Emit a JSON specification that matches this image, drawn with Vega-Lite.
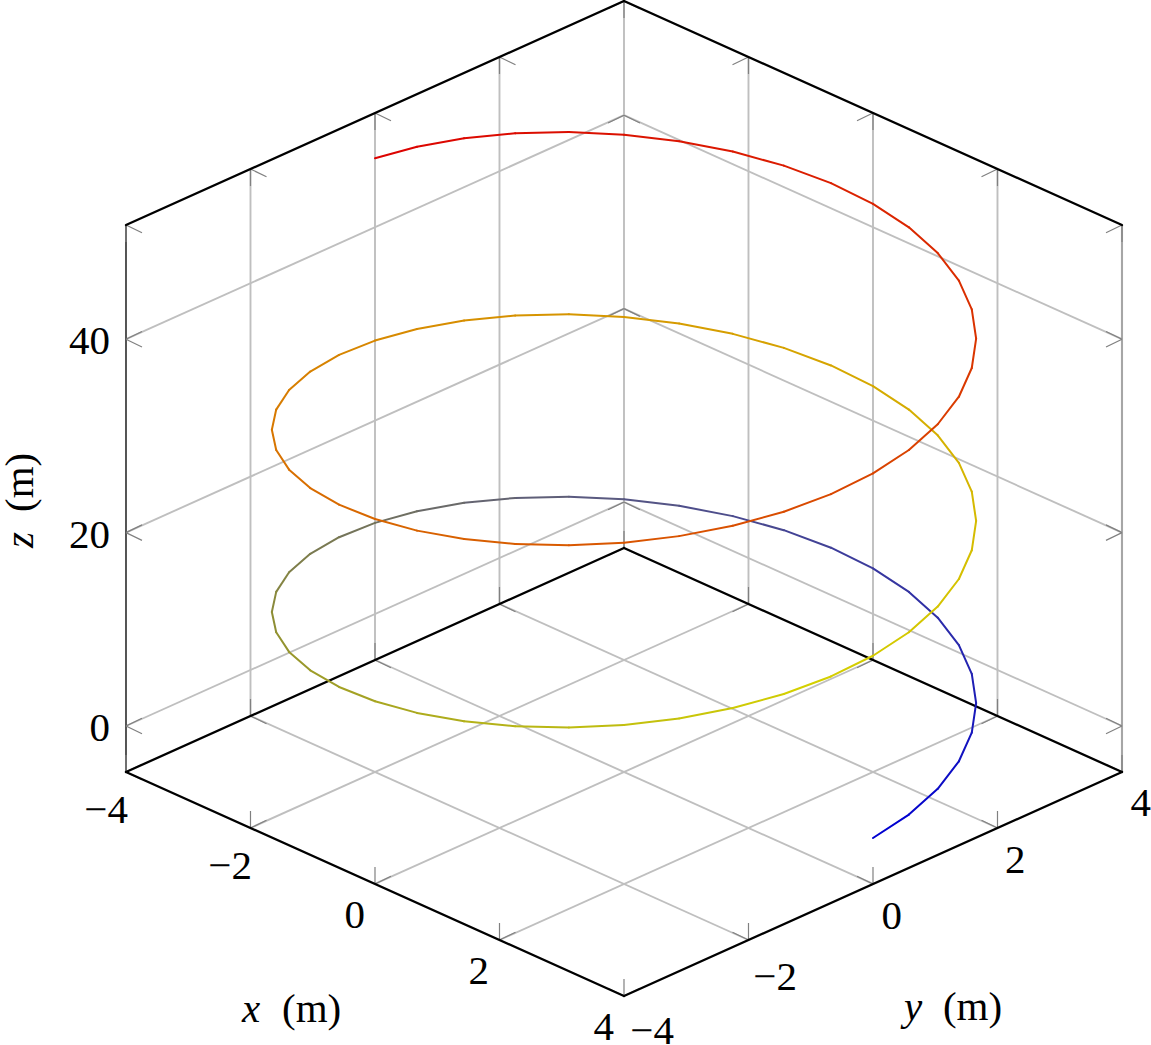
{
"$schema":"https://vega.github.io/schema/vega-lite/v6.json",
"width":1151,"height":1045,"padding":0,"autosize":{"type":"none"},"background":"white",
"config":{"view":{"stroke":null}},
"datasets":{
"grid":[
{"u":-6,"h":-10.548,"u2":2,"h2":12.617},{"u":2,"h":12.617,"u2":2,"h2":69.184},
{"u":-4,"h":-16.339,"u2":4,"h2":6.825},{"u":4,"h":6.825,"u2":4,"h2":63.392},
{"u":-2,"h":-22.131,"u2":6,"h2":1.034},{"u":6,"h":1.034,"u2":6,"h2":57.601},
{"u":-6,"h":1.034,"u2":2,"h2":-22.131},{"u":-6,"h":1.034,"u2":-6,"h2":57.601},
{"u":-4,"h":6.825,"u2":4,"h2":-16.339},{"u":-4,"h":6.825,"u2":-4,"h2":63.392},
{"u":-2,"h":12.617,"u2":6,"h2":-10.548},{"u":-2,"h":12.617,"u2":-2,"h2":69.184},
{"u":0,"h":18.408,"u2":0,"h2":74.975},
{"u":-8,"h":0,"u2":0,"h2":23.165},{"u":0,"h":23.165,"u2":8,"h2":0},
{"u":-8,"h":20,"u2":0,"h2":43.165},{"u":0,"h":43.165,"u2":8,"h2":20},
{"u":-8,"h":40,"u2":0,"h2":63.165},{"u":0,"h":63.165,"u2":8,"h2":40}
],
"ticks":[
{"u":-8,"h":-4.757,"u2":-8,"h2":-2.997},{"u":-6,"h":-10.548,"u2":-6,"h2":-8.788},{"u":-4,"h":-16.339,"u2":-4,"h2":-14.579},{"u":-2,"h":-22.131,"u2":-2,"h2":-20.371},{"u":0,"h":-27.922,"u2":0,"h2":-26.162},
{"u":-8,"h":-4.757,"u2":-7.743,"h2":-3.957},{"u":-6,"h":-10.548,"u2":-5.743,"h2":-9.748},{"u":-4,"h":-16.339,"u2":-3.743,"h2":-15.539},{"u":-2,"h":-22.131,"u2":-1.743,"h2":-21.331},{"u":0,"h":-27.922,"u2":0.257,"h2":-27.122},
{"u":2,"h":-22.131,"u2":2,"h2":-20.371},{"u":4,"h":-16.339,"u2":4,"h2":-14.579},{"u":6,"h":-10.548,"u2":6,"h2":-8.788},{"u":8,"h":-4.757,"u2":8,"h2":-2.997},
{"u":0,"h":-27.922,"u2":-0.257,"h2":-27.122},{"u":2,"h":-22.131,"u2":1.743,"h2":-21.331},{"u":4,"h":-16.339,"u2":3.743,"h2":-15.539},{"u":6,"h":-10.548,"u2":5.743,"h2":-9.748},{"u":8,"h":-4.757,"u2":7.743,"h2":-3.957},
{"u":-6,"h":1.034,"u2":-6,"h2":2.794},{"u":-4,"h":6.825,"u2":-4,"h2":8.585},{"u":-2,"h":12.617,"u2":-2,"h2":14.377},{"u":0,"h":18.408,"u2":0,"h2":20.168},
{"u":-8,"h":-4.757,"u2":-7.743,"h2":-5.557},{"u":-6,"h":1.034,"u2":-5.743,"h2":0.234},{"u":-4,"h":6.825,"u2":-3.743,"h2":6.025},{"u":-2,"h":12.617,"u2":-1.743,"h2":11.817},{"u":0,"h":18.408,"u2":0.257,"h2":17.608},
{"u":2,"h":12.617,"u2":2,"h2":14.377},{"u":4,"h":6.825,"u2":4,"h2":8.585},{"u":6,"h":1.034,"u2":6,"h2":2.794},
{"u":0,"h":18.408,"u2":-0.257,"h2":17.608},{"u":2,"h":12.617,"u2":1.743,"h2":11.817},{"u":4,"h":6.825,"u2":3.743,"h2":6.025},{"u":6,"h":1.034,"u2":5.743,"h2":0.234},{"u":8,"h":-4.757,"u2":7.743,"h2":-5.557},
{"u":-8,"h":51.81,"u2":-8,"h2":50.05},{"u":-6,"h":57.601,"u2":-6,"h2":55.841},{"u":-4,"h":63.392,"u2":-4,"h2":61.632},{"u":-2,"h":69.184,"u2":-2,"h2":67.424},{"u":0,"h":74.975,"u2":0,"h2":73.215},
{"u":-8,"h":51.81,"u2":-7.743,"h2":51.01},{"u":-6,"h":57.601,"u2":-5.743,"h2":56.801},{"u":-4,"h":63.392,"u2":-3.743,"h2":62.592},{"u":-2,"h":69.184,"u2":-1.743,"h2":68.384},{"u":0,"h":74.975,"u2":0.257,"h2":74.175},
{"u":2,"h":69.184,"u2":2,"h2":67.424},{"u":4,"h":63.392,"u2":4,"h2":61.632},{"u":6,"h":57.601,"u2":6,"h2":55.841},{"u":8,"h":51.81,"u2":8,"h2":50.05},
{"u":0,"h":74.975,"u2":-0.257,"h2":74.175},{"u":2,"h":69.184,"u2":1.743,"h2":68.384},{"u":4,"h":63.392,"u2":3.743,"h2":62.592},{"u":6,"h":57.601,"u2":5.743,"h2":56.801},{"u":8,"h":51.81,"u2":7.743,"h2":51.01},
{"u":-8,"h":0,"u2":-7.743,"h2":-0.8},{"u":-8,"h":0,"u2":-7.743,"h2":0.8},{"u":-8,"h":20,"u2":-7.743,"h2":19.2},{"u":-8,"h":20,"u2":-7.743,"h2":20.8},{"u":-8,"h":40,"u2":-7.743,"h2":39.2},{"u":-8,"h":40,"u2":-7.743,"h2":40.8},
{"u":8,"h":0,"u2":7.743,"h2":-0.8},{"u":8,"h":0,"u2":7.743,"h2":0.8},{"u":8,"h":20,"u2":7.743,"h2":19.2},{"u":8,"h":20,"u2":7.743,"h2":20.8},{"u":8,"h":40,"u2":7.743,"h2":39.2},{"u":8,"h":40,"u2":7.743,"h2":40.8},
{"u":0,"h":23.165,"u2":-0.257,"h2":22.365},{"u":0,"h":23.165,"u2":0.257,"h2":22.365},{"u":0,"h":43.165,"u2":-0.257,"h2":42.365},{"u":0,"h":43.165,"u2":0.257,"h2":42.365},{"u":0,"h":63.165,"u2":-0.257,"h2":62.365},{"u":0,"h":63.165,"u2":0.257,"h2":62.365}
],
"frame":[
{"u":-8,"h":-4.757,"u2":0,"h2":-27.922},{"u":0,"h":-27.922,"u2":8,"h2":-4.757},{"u":8,"h":-4.757,"u2":0,"h2":18.408},{"u":0,"h":18.408,"u2":-8,"h2":-4.757},
{"u":-8,"h":51.81,"u2":0,"h2":74.975},{"u":0,"h":74.975,"u2":8,"h2":51.81}
],
"helix":[
{"t":0,"u":4.0,"h":-11.583},{"t":1,"u":4.577,"h":-9.158},{"t":2,"u":5.04,"h":-6.495},{"t":3,"u":5.38,"h":-3.648},{"t":4,"u":5.587,"h":-0.678},{"t":5,"u":5.657,"h":2.356},{"t":6,"u":5.587,"h":5.39},{"t":7,"u":5.38,"h":8.361},{"t":8,"u":5.04,"h":11.207},{"t":9,"u":4.577,"h":13.87},
{"t":10,"u":4.0,"h":16.295},{"t":11,"u":3.325,"h":18.437},{"t":12,"u":2.568,"h":20.251},{"t":13,"u":1.748,"h":21.705},{"t":14,"u":0.885,"h":22.776},{"t":15,"u":0,"h":23.45},{"t":16,"u":-0.885,"h":23.719},{"t":17,"u":-1.748,"h":23.59},{"t":18,"u":-2.568,"h":23.078},{"t":19,"u":-3.325,"h":22.207},
{"t":20,"u":-4.0,"h":21.008},{"t":21,"u":-4.577,"h":19.525},{"t":22,"u":-5.04,"h":17.804},{"t":23,"u":-5.38,"h":15.901},{"t":24,"u":-5.587,"h":13.873},{"t":25,"u":-5.657,"h":11.781},{"t":26,"u":-5.587,"h":9.689},{"t":27,"u":-5.38,"h":7.661},{"t":28,"u":-5.04,"h":5.758},{"t":29,"u":-4.577,"h":4.037},
{"t":30,"u":-4.0,"h":2.554},{"t":31,"u":-3.325,"h":1.355},{"t":32,"u":-2.568,"h":0.484},{"t":33,"u":-1.748,"h":-0.028},{"t":34,"u":-0.885,"h":-0.157},{"t":35,"u":0,"h":0.112},{"t":36,"u":0.885,"h":0.786},{"t":37,"u":1.748,"h":1.857},{"t":38,"u":2.568,"h":3.311},{"t":39,"u":3.325,"h":5.125},
{"t":40,"u":4.0,"h":7.267},{"t":41,"u":4.577,"h":9.692},{"t":42,"u":5.04,"h":12.355},{"t":43,"u":5.38,"h":15.202},{"t":44,"u":5.587,"h":18.172},{"t":45,"u":5.657,"h":21.206},{"t":46,"u":5.587,"h":24.24},{"t":47,"u":5.38,"h":27.211},{"t":48,"u":5.04,"h":30.057},{"t":49,"u":4.577,"h":32.72},
{"t":50,"u":4.0,"h":35.145},{"t":51,"u":3.325,"h":37.287},{"t":52,"u":2.568,"h":39.101},{"t":53,"u":1.748,"h":40.555},{"t":54,"u":0.885,"h":41.626},{"t":55,"u":0,"h":42.3},{"t":56,"u":-0.885,"h":42.569},{"t":57,"u":-1.748,"h":42.44},{"t":58,"u":-2.568,"h":41.928},{"t":59,"u":-3.325,"h":41.057},
{"t":60,"u":-4.0,"h":39.858},{"t":61,"u":-4.577,"h":38.375},{"t":62,"u":-5.04,"h":36.654},{"t":63,"u":-5.38,"h":34.751},{"t":64,"u":-5.587,"h":32.723},{"t":65,"u":-5.657,"h":30.631},{"t":66,"u":-5.587,"h":28.539},{"t":67,"u":-5.38,"h":26.511},{"t":68,"u":-5.04,"h":24.608},{"t":69,"u":-4.577,"h":22.887},
{"t":70,"u":-4.0,"h":21.404},{"t":71,"u":-3.325,"h":20.205},{"t":72,"u":-2.568,"h":19.334},{"t":73,"u":-1.748,"h":18.822},{"t":74,"u":-0.885,"h":18.693},{"t":75,"u":0,"h":18.962},{"t":76,"u":0.885,"h":19.636},{"t":77,"u":1.748,"h":20.707},{"t":78,"u":2.568,"h":22.161},{"t":79,"u":3.325,"h":23.975},
{"t":80,"u":4.0,"h":26.117},{"t":81,"u":4.577,"h":28.542},{"t":82,"u":5.04,"h":31.205},{"t":83,"u":5.38,"h":34.052},{"t":84,"u":5.587,"h":37.022},{"t":85,"u":5.657,"h":40.056},{"t":86,"u":5.587,"h":43.09},{"t":87,"u":5.38,"h":46.061},{"t":88,"u":5.04,"h":48.907},{"t":89,"u":4.577,"h":51.57},
{"t":90,"u":4.0,"h":53.995},{"t":91,"u":3.325,"h":56.137},{"t":92,"u":2.568,"h":57.951},{"t":93,"u":1.748,"h":59.405},{"t":94,"u":0.885,"h":60.476},{"t":95,"u":0,"h":61.15},{"t":96,"u":-0.885,"h":61.419},{"t":97,"u":-1.748,"h":61.29},{"t":98,"u":-2.568,"h":60.778},{"t":99,"u":-3.325,"h":59.907},{"t":100,"u":-4.0,"h":58.708}
],
"tickLabels":[
{"u":-8.257,"h":38.47,"label":"40"},{"u":-8.257,"h":18.41,"label":"20"},{"u":-8.257,"h":-1.55,"label":"0"},
{"u":-7.968,"h":-10.03,"label":"−4"},{"u":-5.976,"h":-15.82,"label":"−2"},{"u":-4.161,"h":-20.89,"label":"0"},{"u":-2.169,"h":-26.68,"label":"2"},{"u":-0.161,"h":-32.47,"label":"4"},
{"u":0.803,"h":-32.89,"label":"−4"},{"u":2.779,"h":-27.3,"label":"−2"},{"u":4.466,"h":-20.99,"label":"0"},{"u":6.45,"h":-15.2,"label":"2"},{"u":8.466,"h":-9.31,"label":"4"}
]
},
"encoding":{
"x":{"field":"u","type":"quantitative","axis":null,"scale":{"domain":[-10.024,8.466],"nice":false,"zero":false}},
"y":{"field":"h","type":"quantitative","axis":null,"scale":{"domain":[-32.99,75.08],"nice":false,"zero":false}}
},
"layer":[
{"data":{"name":"grid"},"mark":{"type":"rule","stroke":"#bfbfbf","strokeWidth":1.9},"encoding":{"x2":{"field":"u2"},"y2":{"field":"h2"}}},
{"data":{"values":[{"u":8,"h":-4.757,"u2":8,"h2":51.81}]},"mark":{"type":"rule","stroke":"#a6a6a6","strokeWidth":2.1},"encoding":{"x2":{"field":"u2"},"y2":{"field":"h2"}}},
{"data":{"values":[{"u":-8,"h":-4.757,"u2":-8,"h2":51.81}]},"mark":{"type":"rule","stroke":"#4d4d4d","strokeWidth":1.9},"encoding":{"x2":{"field":"u2"},"y2":{"field":"h2"}}},
{"data":{"name":"ticks"},"mark":{"type":"rule","stroke":"#808080","strokeWidth":1.2},"encoding":{"x2":{"field":"u2"},"y2":{"field":"h2"}}},
{"data":{"name":"frame"},"mark":{"type":"rule","stroke":"#000000","strokeWidth":2.3,"strokeCap":"round"},"encoding":{"x2":{"field":"u2"},"y2":{"field":"h2"}}},
{"data":{"name":"helix"},
 "transform":[{"window":[{"op":"lead","field":"u","as":"u2"},{"op":"lead","field":"h","as":"h2"}],"sort":[{"field":"t"}]},{"filter":"isValid(datum.u2)"}],
 "mark":{"type":"rule","strokeWidth":2,"strokeCap":"round"},
 "encoding":{"x2":{"field":"u2"},"y2":{"field":"h2"},
 "color":{"field":"t","type":"quantitative","legend":null,"scale":{"domain":[0,15,25,38,100],"range":["#0000d0","#5a5a80","#8e8e34","#d4d000","#dc0000"],"interpolate":"rgb"}}}},
{"data":{"name":"tickLabels"},"mark":{"type":"text","font":"Liberation Serif","fontSize":41,"align":"right","baseline":"alphabetic","color":"#000000"},"encoding":{"text":{"field":"label"}}},
{"data":{"values":[{"u":-6.137,"h":-30.62,"label":"x"},{"u":4.498,"h":-30.4,"label":"y"}]},"mark":{"type":"text","font":"Liberation Serif","fontStyle":"italic","fontSize":41,"align":"left","baseline":"alphabetic","color":"#000000"},"encoding":{"text":{"field":"label"}}},
{"data":{"values":[{"u":-5.494,"h":-30.62,"label":"(m)"},{"u":5.124,"h":-30.4,"label":"(m)"}]},"mark":{"type":"text","font":"Liberation Serif","fontSize":41,"align":"left","baseline":"alphabetic","color":"#000000"},"encoding":{"text":{"field":"label"}}},
{"data":{"values":[{"u":-9.494,"h":18.41,"label":"z"}]},"mark":{"type":"text","font":"Liberation Serif","fontStyle":"italic","fontSize":41,"angle":270,"align":"left","baseline":"alphabetic","color":"#000000"},"encoding":{"text":{"field":"label"}}},
{"data":{"values":[{"u":-9.494,"h":22.13,"label":"(m)"}]},"mark":{"type":"text","font":"Liberation Serif","fontSize":41,"angle":270,"align":"left","baseline":"alphabetic","color":"#000000"},"encoding":{"text":{"field":"label"}}}
]
}
